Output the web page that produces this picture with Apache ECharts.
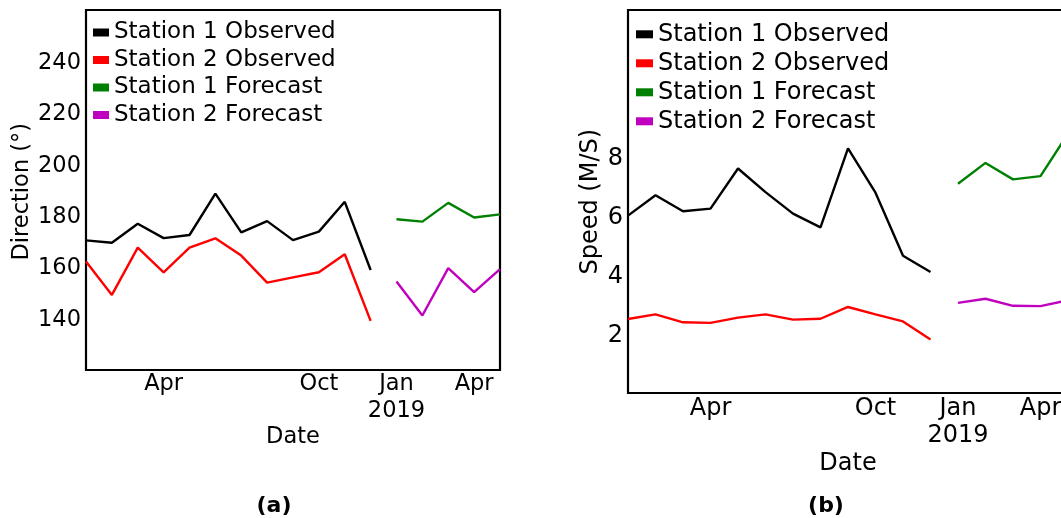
<!DOCTYPE html>
<html>
<head>
<meta charset="utf-8">
<script src="https://cdn.jsdelivr.net/npm/echarts@6/dist/echarts.min.js"></script>
<style>
  html, body { margin: 0; padding: 0; background: #fff; overflow: hidden; }
  #chart { width: 1061px; height: 518px; }
</style>
</head>
<body>
<div id="chart"></div>
<script>
// Monthly time axis, Jan 2018 – May 2019
const months = ['2018-01', '2018-02', '2018-03', '2018-04', '2018-05', '2018-06',
  '2018-07', '2018-08', '2018-09', '2018-10', '2018-11', '2018-12',
  '2019-01', '2019-02', '2019-03', '2019-04', '2019-05'];
const xTickLabels = ['', '', '', 'Apr', '', '', '', '', '', 'Oct', '', '', 'Jan\n2019', '', '', 'Apr', ''];
const observedMonths = months.slice(0, 12);
const forecastMonths = months.slice(12);

const seriesNames = ['Station 1 Observed', 'Station 2 Observed', 'Station 1 Forecast', 'Station 2 Forecast'];
const seriesColors = ['#000000', '#ff0000', '#008000', '#bf00bf'];

// Wind direction (degrees)
const dirS1Obs = [170.4, 169.5, 176.9, 171.3, 172.5, 188.6, 173.5, 177.9, 170.5, 173.8, 185.4, 158.9];
const dirS2Obs = [162.2, 149.2, 167.6, 158.0, 167.6, 171.2, 164.5, 154.0, 156.0, 158.0, 165.0, 139.1];
const dirS1Fc = [178.6, 177.7, 185.0, 179.3, 180.5];
const dirS2Fc = [154.4, 141.2, 159.6, 150.3, 159.2];
const dirTicks = [140, 160, 180, 200, 220, 240];

// Wind speed (m/s)
const spdS1Obs = [6.02, 6.71, 6.17, 6.26, 7.62, 6.82, 6.09, 5.62, 8.30, 6.80, 4.66, 4.11];
const spdS2Obs = [2.51, 2.67, 2.40, 2.38, 2.56, 2.67, 2.49, 2.52, 2.92, 2.67, 2.43, 1.82];
const spdS1Fc = [7.10, 7.81, 7.25, 7.36, 8.80];
const spdS2Fc = [3.06, 3.20, 2.96, 2.95, 3.15];
const spdTicks = [2, 4, 6, 8];

const FONT = 'DejaVu Sans';

function pairs(cats, vals) {
  return cats.map((c, i) => [c, vals[i]]);
}

function lineSeries(name, idx, cats, vals, color) {
  return {
    name: name,
    type: 'line',
    xAxisIndex: idx,
    yAxisIndex: idx,
    data: pairs(cats, vals),
    showSymbol: false,
    symbol: 'none',
    lineStyle: { color: color, width: 2.4 },
    itemStyle: { color: color },
    emphasis: { disabled: true },
    animation: false
  };
}

function xAxisFor(idx, size, lh, margin) {
  return {
    type: 'category',
    gridIndex: idx,
    data: months,
    boundaryGap: false,
    axisLine: { show: false },
    axisTick: { show: false },
    splitLine: { show: false },
    axisLabel: {
      interval: (i) => xTickLabels[i] !== '',
      formatter: (v, i) => xTickLabels[i],
      fontFamily: FONT, fontSize: size, color: '#000',
      lineHeight: lh, margin: margin,
      hideOverlap: false
    }
  };
}

function yAxisFor(idx, min, max, step, ticks, size) {
  return {
    type: 'value',
    gridIndex: idx,
    min: min, max: max, interval: step,
    axisLine: { show: false },
    axisTick: { show: false },
    splitLine: { show: false },
    axisLabel: {
      formatter: (v) => ticks.includes(v) ? '{t|' + v + '}' : '',
      margin: 5,
      rich: { t: { fontFamily: FONT, fontSize: size, color: '#000', padding: [3, 0, 0, 0] } }
    }
  };
}

function legendFor(left, top, size, lh, pad, gap, w) {
  return {
    left: left, top: top, orient: 'vertical', padding: 0,
    itemWidth: w, itemHeight: 8, itemGap: gap,
    icon: 'rect', selectedMode: false,
    data: seriesNames.map((n, i) => ({ name: n, itemStyle: { color: seriesColors[i] } })),
    textStyle: { fontFamily: FONT, fontSize: size, color: '#000', lineHeight: lh, padding: [0, 0, pad, 0] }
  };
}

function label(text, x, y, size, opts) {
  return Object.assign({
    type: 'text', x: x, y: y,
    style: { text: text, fontFamily: FONT, fontSize: size, fill: '#000', align: 'center', verticalAlign: 'middle' }
  }, opts || {});
}

const chart = echarts.init(document.getElementById('chart'), null, { renderer: 'canvas' });

chart.setOption({
  animation: false,
  backgroundColor: '#fff',
  grid: [
    { left: 86, top: 10, width: 414, height: 360, show: true, borderColor: '#000', borderWidth: 2.2, backgroundColor: 'transparent', containLabel: false, outerBoundsMode: 'none' },
    { left: 628, top: 10, width: 440, height: 383, show: true, borderColor: '#000', borderWidth: 2.2, backgroundColor: 'transparent', containLabel: false, outerBoundsMode: 'none' }
  ],
  xAxis: [xAxisFor(0, 22.5, 27, 1), xAxisFor(1, 24, 27, 2)],
  yAxis: [
    yAxisFor(0, 120, 260, 20, dirTicks, 22.5),
    yAxisFor(1, 0, 13, 1, spdTicks, 24)
  ],
  legend: [
    legendFor(93, 16, 23, 23, 10, -5.5, 16),
    legendFor(636, 16.3, 24, 24, 12, -7, 17)
  ],
  series: [
    lineSeries(seriesNames[0], 0, observedMonths, dirS1Obs, seriesColors[0]),
    lineSeries(seriesNames[1], 0, observedMonths, dirS2Obs, seriesColors[1]),
    lineSeries(seriesNames[2], 0, forecastMonths, dirS1Fc, seriesColors[2]),
    lineSeries(seriesNames[3], 0, forecastMonths, dirS2Fc, seriesColors[3]),
    lineSeries(seriesNames[0], 1, observedMonths, spdS1Obs, seriesColors[0]),
    lineSeries(seriesNames[1], 1, observedMonths, spdS2Obs, seriesColors[1]),
    lineSeries(seriesNames[2], 1, forecastMonths, spdS1Fc, seriesColors[2]),
    lineSeries(seriesNames[3], 1, forecastMonths, spdS2Fc, seriesColors[3])
  ],
  graphic: [
    label('Direction (°)', 22, 191.7, 22.5, { rotation: Math.PI / 2 }),
    label('Date', 293, 436.7, 22.5),
    label('(a)', 274, 506, 22, { style: { text: '(a)', fontFamily: FONT, fontSize: 22, fontWeight: 'bold', fill: '#000', align: 'center', verticalAlign: 'middle' } }),
    label('Speed (M/S)', 591, 201.7, 24, { rotation: Math.PI / 2 }),
    label('Date', 848, 463.3, 24),
    label('(b)', 826, 506, 22, { style: { text: '(b)', fontFamily: FONT, fontSize: 22, fontWeight: 'bold', fill: '#000', align: 'center', verticalAlign: 'middle' } })
  ]
});
</script>
</body>
</html>
